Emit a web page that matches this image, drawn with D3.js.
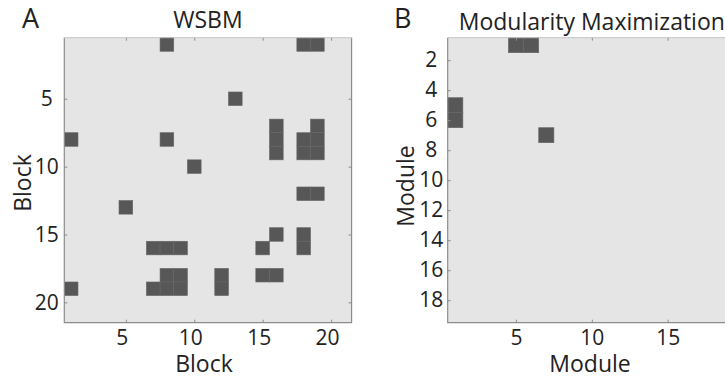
<!DOCTYPE html>
<html>
<head>
<meta charset="utf-8">
<script src="https://cdn.jsdelivr.net/npm/d3@7"></script>
<style>
  body { margin: 0; background: #fff; }
  text { font-family: "Open Sans", sans-serif; fill: #222; }
</style>
</head>
<body>
<div id="chart"></div>
<script>
// WSBM block adjacency: [row, col] of the filled cells (21 blocks)
const wsbmSize = 21;
const wsbmCells = [
  [1, 8], [1, 18], [1, 19],
  [5, 13],
  [7, 16], [7, 19],
  [8, 1], [8, 8], [8, 16], [8, 18], [8, 19],
  [9, 16], [9, 18], [9, 19],
  [10, 10],
  [12, 18], [12, 19],
  [13, 5],
  [15, 16], [15, 18],
  [16, 7], [16, 8], [16, 9], [16, 15], [16, 18],
  [18, 8], [18, 9], [18, 12], [18, 15], [18, 16],
  [19, 1], [19, 7], [19, 8], [19, 9], [19, 12]
];
const wsbmTicks = [5, 10, 15, 20];

// Modularity maximization module matrix (19 modules)
const modSize = 19;
const modCells = [[1, 5], [1, 6], [5, 1], [6, 1], [7, 7]];
const modTicksX = [5, 10, 15];
const modTicksY = [2, 4, 6, 8, 10, 12, 14, 16, 18];

const W = 725, H = 378;
const svg = d3.select("#chart").append("svg")
  .attr("width", W).attr("height", H);

function panel(opts) {
  const x = d3.scaleLinear().domain([0.5, opts.n + 0.5]).range([opts.left, opts.left + opts.n * opts.cellW]);
  const y = d3.scaleLinear().domain([0.5, opts.n + 0.5]).range([37.7, 322.7]);
  const g = svg.append("g");
  const x0 = x.range()[0], x1 = x.range()[1];
  const y0 = y.range()[0], y1 = y.range()[1];

  // background
  g.append("rect")
    .attr("x", x0).attr("y", y0)
    .attr("width", x1 - x0).attr("height", y1 - y0)
    .attr("fill", "#e5e5e5");

  // filled cells
  g.selectAll(".cell")
    .data(opts.cells)
    .enter().append("rect")
    .attr("class", "cell")
    .attr("x", d => x(d[1] - 0.5))
    .attr("y", d => y(d[0] - 0.5))
    .attr("width", x(1.5) - x(0.5))
    .attr("height", y(1.5) - y(0.5))
    .attr("fill", "#575757")
    .attr("stroke", "#666")
    .attr("stroke-width", 0.6);

  // axes: ticks inward on all sides
  const axisStyle = sel => {
    sel.select(".domain").remove();
    sel.selectAll(".tick line").attr("stroke", "#8c8c8c");
    sel.selectAll(".tick text").style("font-size", "21px").style("fill", "#222");
  };
  g.append("g").attr("transform", `translate(0,${y1})`)
    .call(d3.axisBottom(x).tickValues(opts.ticksX).tickSizeInner(-3).tickSizeOuter(0).tickPadding(7))
    .call(axisStyle)
    .selectAll(".tick text").attr("dx", opts.xLabelShift);
  g.append("g").attr("transform", `translate(0,${y0})`)
    .call(d3.axisTop(x).tickValues(opts.ticksX).tickSizeInner(-3).tickSizeOuter(0).tickFormat(""))
    .call(axisStyle);
  g.append("g").attr("transform", `translate(${x0},0)`)
    .call(d3.axisLeft(y).tickValues(opts.ticksY).tickSizeInner(-3).tickSizeOuter(0))
    .call(axisStyle)
    .selectAll(".tick text").attr("text-anchor", "middle").attr("x", -opts.yLabelOff);
  g.append("g").attr("transform", `translate(${x1},0)`)
    .call(d3.axisRight(y).tickValues(opts.ticksY).tickSizeInner(-3).tickSizeOuter(0).tickFormat(""))
    .call(axisStyle);

  // box
  g.append("path")
    .attr("d", `M${x0},${y0}V${y1}H${x1}V${y0}`)
    .attr("fill", "none").attr("stroke", "#8c8c8c").attr("stroke-width", 1.2);
  g.append("line")
    .attr("x1", x0).attr("x2", x1).attr("y1", y0).attr("y2", y0)
    .attr("stroke", "#c4c4c4").attr("stroke-width", 1);

  // titles and labels
  g.append("text")
    .attr("x", (x0 + x1) / 2).attr("y", opts.titleY)
    .attr("text-anchor", "middle")
    .style("font-size", "23px")
    .text(opts.title);
  g.append("text")
    .attr("x", opts.letterX).attr("y", 28)
    .style("font-size", "27px")
    .text(opts.letter);
  g.append("text")
    .attr("x", opts.xLabelX).attr("y", 372)
    .attr("text-anchor", "middle")
    .style("font-size", "23px")
    .text(opts.xLabel);
  g.append("text")
    .attr("transform", `translate(${opts.yLabelX},${opts.yLabelY}) rotate(-90)`)
    .attr("text-anchor", "middle")
    .style("font-size", "23px")
    .text(opts.yLabel);
}

panel({
  n: wsbmSize, cells: wsbmCells, left: 64.3, cellW: 13.68,
  ticksX: wsbmTicks, ticksY: wsbmTicks, xLabelShift: -4, yLabelOff: 17.5,
  title: "WSBM", titleY: 28, letter: "A", letterX: 22,
  xLabel: "Block", xLabelX: 204, yLabel: "Block", yLabelX: 31, yLabelY: 183
});

panel({
  n: modSize, cells: modCells, left: 447.7, cellW: 15.17,
  ticksX: modTicksX, ticksY: modTicksY, xLabelShift: 0, yLabelOff: 16.5,
  title: "Modularity Maximization", titleY: 30, letter: "B", letterX: 394,
  xLabel: "Module", xLabelX: 590, yLabel: "Module", yLabelX: 414, yLabelY: 186
});
</script>
</body>
</html>
